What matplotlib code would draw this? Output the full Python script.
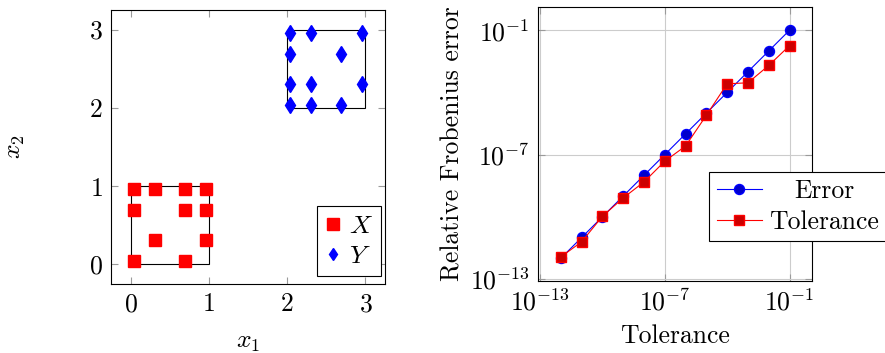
import matplotlib
matplotlib.use("Agg")
import matplotlib.pyplot as plt
from matplotlib.patches import Rectangle

# sample points: X lives in [0,1]^2, Y in [2,3]^2
X_x = [0.04, 0.31, 0.69, 0.96, 0.04, 0.69, 0.96, 0.31, 0.96, 0.04, 0.69]
X_y = [0.96, 0.96, 0.96, 0.96, 0.69, 0.69, 0.69, 0.31, 0.31, 0.04, 0.04]
Y_x = [2.04, 2.31, 2.96, 2.04, 2.69, 2.04, 2.31, 2.96, 2.04, 2.31, 2.69]
Y_y = [2.96, 2.96, 2.96, 2.69, 2.69, 2.31, 2.31, 2.31, 2.04, 2.04, 2.04]

# convergence study
tol = [1e-12, 1e-11, 1e-10, 1e-9, 1e-8, 1e-7, 1e-6, 1e-5, 1e-4, 1e-3, 1e-2, 1e-1]
err = [1e-12, 1e-11, 1e-10, 1e-9, 1e-8, 1e-7, 1e-6, 1e-5, 1e-4, 1e-3, 1e-2, 1e-1]
tol_err = [1.15e-12, 6.2e-12, 1.05e-10, 8.1e-10, 4.8e-9, 4.8e-8,
           2.6e-7, 7.9e-6, 2.6e-4, 2.9e-4, 2.0e-3, 1.8e-2]

plt.rcParams['font.family'] = 'serif'
plt.rcParams['font.serif'] = ['cmr10']
plt.rcParams['mathtext.fontset'] = 'cm'
plt.rcParams['axes.formatter.use_mathtext'] = True
plt.rcParams['font.size'] = 18.5
plt.rcParams['axes.linewidth'] = 0.8

fig = plt.figure(figsize=(8.85, 3.53), dpi=100)
ax1 = fig.add_axes([111 / 885, 1 - 284 / 353, 274 / 885, 274 / 353])
ax2 = fig.add_axes([538 / 885, 1 - 281 / 353, 274 / 885, 274 / 353])

for ax in (ax1, ax2):
    ax.tick_params(which='both', direction='in', top=True, right=True,
                   length=5, width=0.8, color='#9a9a9a', pad=6)

# left panel: the two point clouds and their bounding boxes
ax1.add_patch(Rectangle((0, 0), 1, 1, fill=False, ec='black', lw=0.8))
ax1.add_patch(Rectangle((2, 2), 1, 1, fill=False, ec='black', lw=0.8))
ax1.plot(X_x, X_y, 's', color='red', ms=8.4, ls='none', label='$X$')
ax1.plot(Y_x, Y_y, 'd', color='blue', ms=7.8, ls='none', label='$Y$')
ax1.set_xlim(-0.25, 3.25)
ax1.set_ylim(-0.25, 3.25)
ax1.set_xticks([0, 1, 2, 3])
ax1.set_yticks([0, 1, 2, 3])
ax1.set_xlabel('$x_1$', labelpad=10)
ax1.set_ylabel('$x_2$')
ax1.yaxis.set_label_coords(-0.305, 0.5)
leg1 = ax1.legend(loc='lower right', bbox_to_anchor=(0.985, 0.03),
                  handlelength=0.6, handletextpad=0.35, borderpad=0.3,
                  labelspacing=0.25, borderaxespad=0, fancybox=False,
                  framealpha=1, edgecolor='black')
leg1.get_frame().set_linewidth(0.8)
leg1.legend_handles[1].set_markersize(6)

# right panel: error vs tolerance on log-log axes
ax2.plot(tol, err, '-o', color='blue', mfc=(0, 0, 0.8), mec='blue',
         ms=7.2, lw=0.8, label='Error')
ax2.plot(tol, tol_err, '-s', color='red', mfc=(0.8, 0, 0), mec='red',
         ms=7.2, lw=0.8, label='Tolerance')
ax2.set_xscale('log')
ax2.set_yscale('log')
ax2.set_xlim(10 ** -13.1, 10 ** 0.08)
ax2.set_ylim(10 ** -13.1, 10 ** 0.12)
ax2.set_xticks([1e-13, 1e-7, 1e-1])
ax2.set_yticks([1e-13, 1e-7, 1e-1])
ax2.minorticks_off()
ax2.grid(True, color='#cccccc', lw=0.8)
ax2.set_axisbelow(True)
ax2.set_xlabel('Tolerance', labelpad=6)
ax2.set_ylabel('Relative Frobenius error', labelpad=4)
leg2 = ax2.legend(loc='upper left', bbox_to_anchor=(0.624, 0.398),
                  handlelength=1.75, handletextpad=0.3, borderpad=0.3,
                  labelspacing=0.25, borderaxespad=0, fancybox=False,
                  framealpha=1, edgecolor='black')
leg2.get_frame().set_linewidth(0.8)

# centre the shorter legend entry within the text column
fig.canvas.draw()
r = fig.canvas.get_renderer()
texts = leg2.get_texts()
w = [t.get_window_extent(r).width for t in texts]
texts[0].set_x((max(w) - w[0]) / 2)

fig.savefig('out.png', dpi=100)
